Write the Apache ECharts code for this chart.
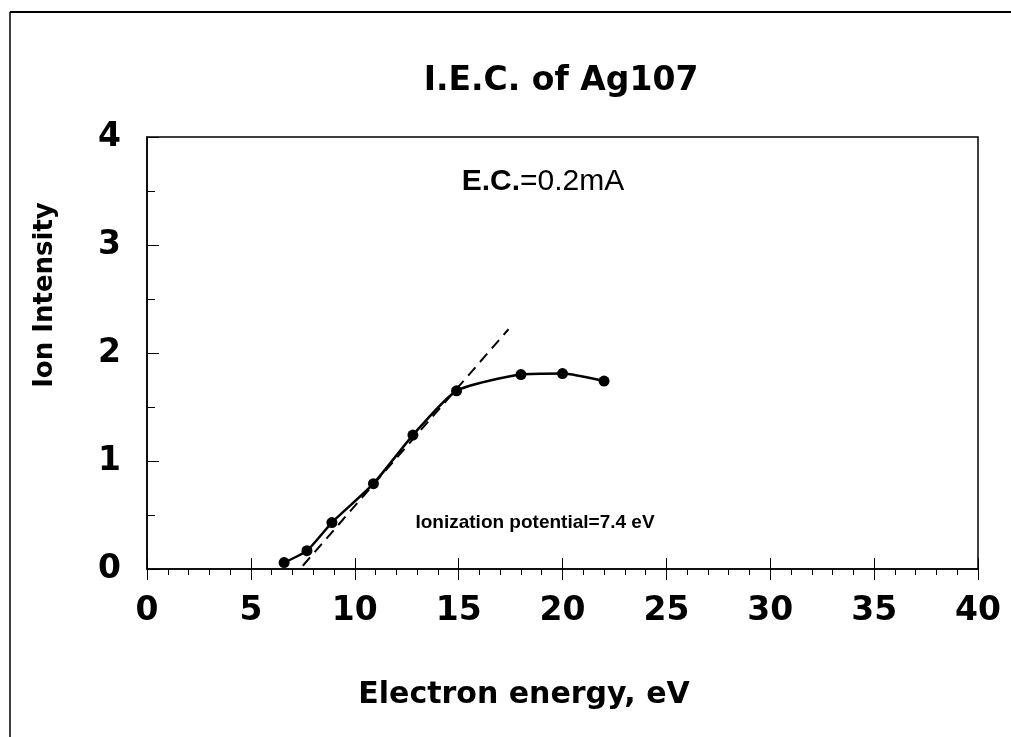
<!DOCTYPE html>
<html>
<head>
<meta charset="utf-8">
<title>I.E.C. of Ag107</title>
<script src="https://cdn.jsdelivr.net/npm/echarts@6/dist/echarts.min.js"></script>
<style>
  html, body { margin: 0; padding: 0; background: #fff; }
  #chart { width: 1011px; height: 737px; }
</style>
</head>
<body>
<div id="chart"></div>
<script>
// Measured ion intensity versus electron energy (E.C. = 0.2 mA)
const energy = [6.6, 7.7, 8.9, 10.9, 12.8, 14.9, 18.0, 20.0, 22.0];
const intensity = [0.06, 0.17, 0.43, 0.79, 1.24, 1.65, 1.80, 1.81, 1.74];

// Linear extrapolation of the rising edge toward the ionization potential
const tangentX = [7.5, 17.4];
const tangentY = [0.03, 2.22];

// Axis ranges and tick steps
const xRange = [0, 40];
const xStep = 5;
const yRange = [0, 4];
const yStep = 1;

const boldFace = "'DejaVu Sans', sans-serif";

const measured = energy.map((x, i) => [x, intensity[i]]);
const tangent = tangentX.map((x, i) => [x, tangentY[i]]);

const chart = echarts.init(document.getElementById('chart'), null, { renderer: 'canvas' });

chart.setOption({
  backgroundColor: '#ffffff',
  animation: false,
  title: {
    text: 'I.E.C. of Ag107',
    left: 556,
    top: 60,
    textAlign: 'center',
    textStyle: { fontFamily: boldFace, fontWeight: 'bold', fontSize: 33, color: '#000' }
  },
  grid: {
    left: 147, right: 33, top: 137, bottom: 168,
    show: true, borderColor: '#000', borderWidth: 1.5, backgroundColor: 'transparent'
  },
  xAxis: [
    {
      type: 'value', min: xRange[0], max: xRange[1], interval: xStep,
      axisLine: { show: true, onZero: false, lineStyle: { color: '#000', width: 1.5 } },
      axisTick: { show: true, inside: false, length: 11, lineStyle: { color: '#000', width: 1 } },
      minorTick: { show: true, splitNumber: 5, length: 6, lineStyle: { color: '#000', width: 1 } },
      splitLine: { show: false },
      axisLabel: { margin: 26, color: '#000', fontFamily: boldFace, fontWeight: 'bold', fontSize: 33 }
    },
    {
      // inner half of the major x ticks
      type: 'value', min: xRange[0], max: xRange[1], interval: xStep, position: 'bottom',
      axisLine: { show: false },
      axisTick: { show: true, inside: true, length: 11, lineStyle: { color: '#000', width: 1 } },
      splitLine: { show: false },
      axisLabel: { show: false }
    }
  ],
  yAxis: {
    type: 'value', min: yRange[0], max: yRange[1], interval: yStep,
    axisLine: { show: true, onZero: false, lineStyle: { color: '#000', width: 1.5 } },
    axisTick: { show: true, inside: true, length: 12, lineStyle: { color: '#000', width: 1 } },
    minorTick: { show: true, splitNumber: 2, length: 8, lineStyle: { color: '#000', width: 1 } },
    splitLine: { show: false },
    axisLabel: { margin: 26, color: '#000', fontFamily: boldFace, fontWeight: 'bold', fontSize: 33 }
  },
  graphic: [
    { type: 'line', shape: { x1: 10, y1: 12, x2: 1011, y2: 12 }, style: { stroke: '#000', lineWidth: 2 } },
    { type: 'line', shape: { x1: 10, y1: 12, x2: 10, y2: 737 }, style: { stroke: '#000', lineWidth: 1.5 } },
    {
      type: 'text', x: 45, y: 295, rotation: Math.PI / 2,
      style: {
        text: 'Ion Intensity', x: 0, y: 0, align: 'center', verticalAlign: 'middle',
        fill: '#000', fontFamily: boldFace, fontWeight: 'bold', fontSize: 26
      }
    },
    {
      type: 'text', x: 524, y: 695,
      style: {
        text: 'Electron energy, eV', x: 0, y: 0, align: 'center', verticalAlign: 'middle',
        fill: '#000', fontFamily: boldFace, fontWeight: 'bold', fontSize: 30
      }
    },
    {
      type: 'text', x: 543, y: 182,
      style: {
        text: '{b|E.C.}{r|=0.2mA}', x: 0, y: 0, align: 'center', verticalAlign: 'middle',
        rich: {
          b: { fill: '#000', fontFamily: "'Liberation Sans', sans-serif", fontWeight: 'bold', fontSize: 30 },
          r: { fill: '#000', fontFamily: "'Liberation Sans', sans-serif", fontWeight: 'normal', fontSize: 30 }
        }
      }
    },
    {
      type: 'text', x: 535, y: 523,
      style: {
        text: 'Ionization potential=7.4 eV', x: 0, y: 0, align: 'center', verticalAlign: 'middle',
        fill: '#000', fontFamily: "'Liberation Sans', sans-serif", fontWeight: 'bold', fontSize: 19
      }
    }
  ],
  series: [
    {
      name: 'Ion intensity', type: 'line', data: measured,
      smooth: 0.2,
      symbol: 'circle', symbolSize: 11,
      itemStyle: { color: '#000' },
      lineStyle: { color: '#000', width: 2.5 },
      z: 3
    },
    {
      name: 'Extrapolation', type: 'line', data: tangent, symbol: 'none',
      lineStyle: { color: '#000', width: 2, type: [11, 7] },
      z: 2
    }
  ]
});
</script>
</body>
</html>
